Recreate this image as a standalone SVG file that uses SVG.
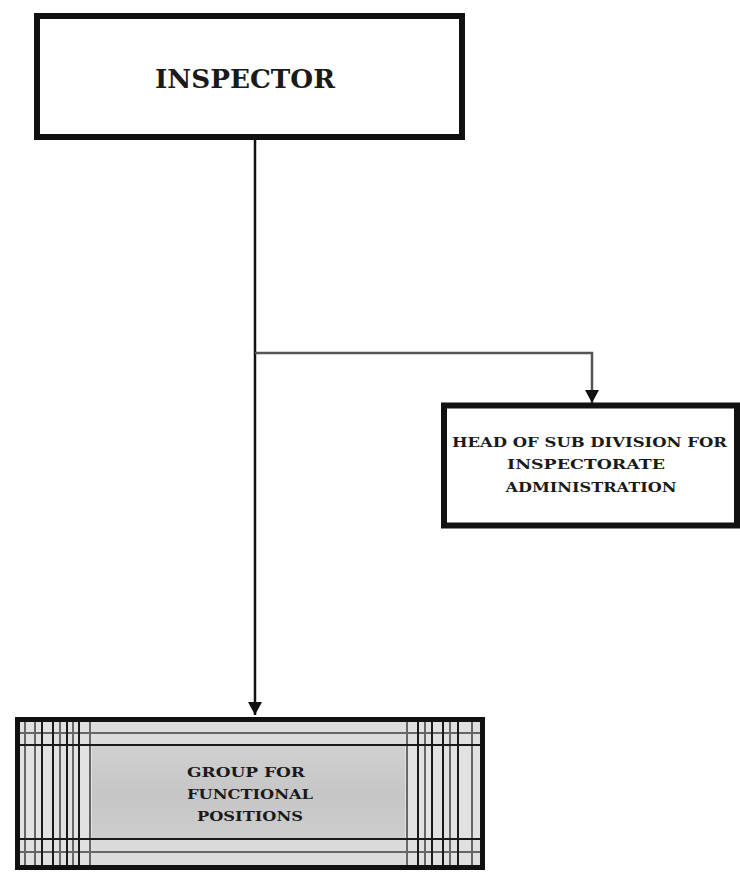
<svg xmlns="http://www.w3.org/2000/svg" width="740" height="874" viewBox="0 0 740 874">
<defs>
<style>
.box{fill:#fff;stroke:#111;stroke-width:6}
.t{font-family:"DejaVu Serif","Liberation Serif",serif;font-weight:bold;fill:#1a1a1a;text-anchor:middle}
.dk{stroke:#1a1a1a;stroke-width:2}
.gr{stroke:#666;stroke-width:2}
.conn{fill:none;stroke:#111;stroke-width:2.5}
.conn2{fill:none;stroke:#555;stroke-width:2.5}
</style>
<marker id="ah" markerUnits="userSpaceOnUse" markerWidth="16" markerHeight="14" refX="13" refY="7" orient="auto">
<path d="M0,0 L13,7 L0,14 Z" fill="#111"/>
</marker>
<linearGradient id="mid" x1="0" y1="0" x2="0" y2="1">
<stop offset="0" stop-color="#d6d6d6"/>
<stop offset="0.5" stop-color="#c6c6c6"/>
<stop offset="1" stop-color="#d2d2d2"/>
</linearGradient>
</defs>
<rect width="740" height="874" fill="#fff"/>
<g id="connectors">
<path class="conn" d="M255,140 V715" marker-end="url(#ah)"/>
<path class="conn2" d="M255,353 H592 V403" marker-end="url(#ah)"/>
</g>
<g id="inspector">
<rect class="box" x="37" y="16" width="425" height="121"/>
<text class="t" x="245" y="88" font-size="26" textLength="180" lengthAdjust="spacingAndGlyphs">INSPECTOR</text>
</g>
<g id="head">
<rect class="box" x="444" y="405.5" width="293" height="120" stroke-width="5"/>
<text class="t" x="589.5" y="447" font-size="13.5" textLength="275" lengthAdjust="spacingAndGlyphs">HEAD OF SUB DIVISION FOR</text>
<text class="t" x="586" y="469" font-size="13.5" textLength="158" lengthAdjust="spacingAndGlyphs">INSPECTORATE</text>
<text class="t" x="591" y="492" font-size="13.5" textLength="171" lengthAdjust="spacingAndGlyphs">ADMINISTRATION</text>
</g>
<g id="group">
<rect x="17.5" y="719.5" width="465" height="148" fill="url(#mid)"/>
<rect x="20" y="722" width="72" height="143" fill="#e2e2e2"/>
<rect x="405" y="722" width="75" height="143" fill="#e2e2e2"/>
<rect x="20" y="722" width="460" height="24" fill="#e0e0e0" opacity="0.7"/>
<rect x="20" y="838" width="460" height="27" fill="#e0e0e0" opacity="0.7"/>
<g class="gr">
<line x1="25" y1="722" x2="25" y2="865"/>
<line x1="35" y1="722" x2="35" y2="865"/>
<line x1="60" y1="722" x2="60" y2="865"/>
<line x1="73" y1="722" x2="73" y2="865"/>
<line x1="90" y1="722" x2="90" y2="865"/>
<line x1="407" y1="722" x2="407" y2="865"/>
<line x1="425" y1="722" x2="425" y2="865"/>
<line x1="450" y1="722" x2="450" y2="865"/>
<line x1="472" y1="722" x2="472" y2="865"/>
<line x1="20" y1="733" x2="480" y2="733"/>
<line x1="20" y1="852" x2="480" y2="852"/>
</g>
<g class="dk">
<line x1="42" y1="722" x2="42" y2="865"/>
<line x1="53" y1="722" x2="53" y2="865"/>
<line x1="67" y1="722" x2="67" y2="865"/>
<line x1="79" y1="722" x2="79" y2="865"/>
<line x1="418" y1="722" x2="418" y2="865"/>
<line x1="432" y1="722" x2="432" y2="865"/>
<line x1="443" y1="722" x2="443" y2="865"/>
<line x1="458" y1="722" x2="458" y2="865"/>
<line x1="20" y1="745" x2="480" y2="745"/>
<line x1="20" y1="839" x2="480" y2="839"/>
</g>
<rect x="17.5" y="719.5" width="465" height="148" fill="none" stroke="#111" stroke-width="5"/>
<text class="t" x="246" y="777" font-size="13" textLength="118" lengthAdjust="spacingAndGlyphs">GROUP FOR</text>
<text class="t" x="250" y="799" font-size="13" textLength="126" lengthAdjust="spacingAndGlyphs">FUNCTIONAL</text>
<text class="t" x="250" y="821" font-size="13" textLength="106" lengthAdjust="spacingAndGlyphs">POSITIONS</text>
</g>
</svg>
